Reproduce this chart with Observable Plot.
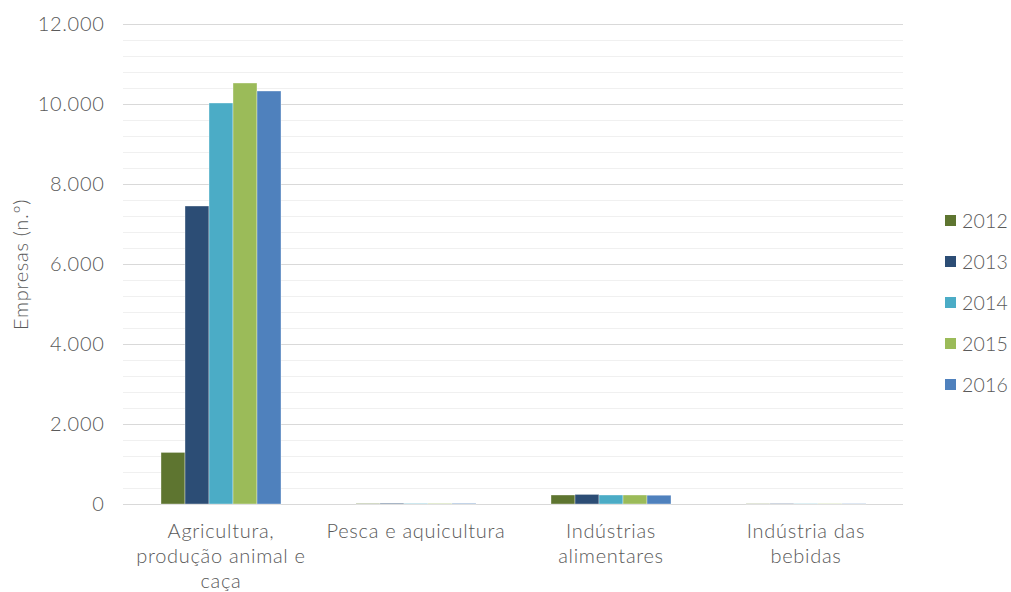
<!DOCTYPE html>
<html>
<head>
<meta charset="utf-8">
<script src="https://cdn.jsdelivr.net/npm/d3@7"></script>
<script src="https://cdn.jsdelivr.net/npm/@observablehq/plot@0.6"></script>
<style>
  html, body { margin: 0; padding: 0; background: #fff; }
  #wrap { position: relative; width: 1011px; height: 592px; font-family: Lato, sans-serif; font-weight: 300; color: #595959; }
  #legend { position: absolute; left: 945px; top: 200px; }
  .item { display: flex; align-items: center; height: 41px; font-size: 19.5px; letter-spacing: 0.2px; }
  .sw { width: 11px; height: 11px; margin-right: 6px; }
  svg text { letter-spacing: 0.7px; }
</style>
</head>
<body>
<div id="wrap"><div id="chart"></div><div id="legend"></div></div>
<script>
const categories = ["Agricultura, produção animal e caça", "Pesca e aquicultura", "Indústrias alimentares", "Indústria das bebidas"];
const categoryLabels = ["Agricultura,\nprodução animal e\ncaça", "Pesca e aquicultura", "Indústrias\nalimentares", "Indústria das\nbebidas"];
const years = ["2012", "2013", "2014", "2015", "2016"];
const colors = ["#5e7530", "#2c4d75", "#4bacc6", "#9bbb59", "#4f81bd"];
const v2012 = [1290, 15, 225, 10];
const v2013 = [7450, 20, 240, 12];
const v2014 = [10025, 15, 225, 10];
const v2015 = [10525, 15, 225, 10];
const v2016 = [10325, 18, 220, 10];
const yTicks = [0, 2000, 4000, 6000, 8000, 10000, 12000];
const yMinor = d3.range(0, 12001, 400);

const series = [v2012, v2013, v2014, v2015, v2016];
const data = [];
categories.forEach((c, i) => years.forEach((y, j) => data.push({category: c, year: y, value: series[j][i]})));

const loc = d3.formatLocale({decimal: ",", thousands: ".", grouping: [3], currency: ["", "€"]});
const fmt = loc.format(",.0f");

const chart = Plot.plot({
  width: 930,
  height: 592,
  marginLeft: 122,
  marginRight: 26,
  marginTop: 24,
  marginBottom: 88,
  style: {fontFamily: "Lato, sans-serif", fontWeight: 300, fontSize: "20px", color: "#595959", background: "white"},
  fx: {domain: categories, padding: 0, label: null},
  x: {domain: years, padding: 0, paddingOuter: 1.5, axis: null},
  y: {domain: [0, 12000], label: null},
  color: {domain: years, range: colors},
  marks: [
    Plot.ruleY(yMinor, {stroke: "#f0f0f0", strokeWidth: 1.2}),
    Plot.ruleY(yTicks, {stroke: "#d9d9d9", strokeWidth: 1.2}),
    Plot.barY(data, {fx: "category", x: "year", y: "value", fill: "year", stroke: "white", strokeOpacity: 0.6, strokeWidth: 0.6}),
    Plot.axisY({ticks: yTicks, tickFormat: fmt, tickSize: 0, tickPadding: 19, fill: "#595959", fontSize: 20,
      label: "Empresas (n.º)", labelArrow: "none", labelAnchor: "center", labelOffset: 110}),
    Plot.axisFx({anchor: "bottom", tickSize: 0, tickPadding: 16, fontSize: 20, fill: "#595959", lineHeight: 1.25,
      tickFormat: d => categoryLabels[categories.indexOf(d)], label: null, lineWidth: 100})
  ]
});
document.getElementById("chart").appendChild(chart);

const leg = document.getElementById("legend");
years.forEach((y, i) => {
  const it = document.createElement("div");
  it.className = "item";
  it.innerHTML = `<div class="sw" style="background:${colors[i]}"></div><span>${y}</span>`;
  leg.appendChild(it);
});
</script>
</body>
</html>
